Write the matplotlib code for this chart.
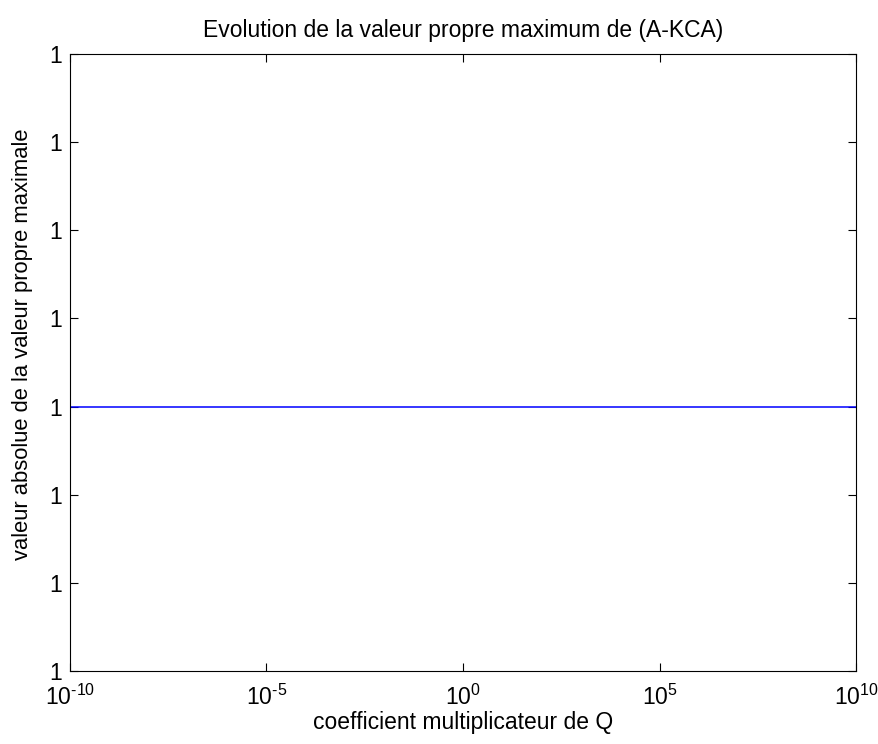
import numpy as np
import matplotlib
matplotlib.use("Agg")
import matplotlib.pyplot as plt
from matplotlib.ticker import FixedLocator, FuncFormatter

# Data
q = [1e-10, 1e-5, 1e0, 1e5, 1e10]
valeur = [1.0, 1.0, 1.0, 1.0, 1.0]
x_ticks = [1e-10, 1e-5, 1e0, 1e5, 1e10]
y_ticks = [1 - 3e-6, 1 - 2e-6, 1 - 1e-6, 1.0, 1 + 1e-6, 1 + 2e-6, 1 + 3e-6, 1 + 4e-6]

plt.rcParams['font.family'] = ['Liberation Sans', 'DejaVu Sans']
plt.rcParams['mathtext.fontset'] = 'custom'
plt.rcParams['mathtext.rm'] = 'Liberation Sans'
plt.rcParams['mathtext.it'] = 'Liberation Sans'
plt.rcParams['mathtext.bf'] = 'Liberation Sans'
plt.rcParams['mathtext.sf'] = 'Liberation Sans'

FS = 16.5


def xfmt(v, p):
    e = int(round(np.log10(v)))
    return r'$\mathregular{10^{\text{%d}}}$' % e


fig = plt.figure(figsize=(8.79, 7.44), dpi=100)
ax = fig.add_axes([70/879, 1 - 671/744, (856-70)/879, (671-54)/744])

ax.plot(q, valeur, color='#0000ff', linewidth=1.1)
ax.set_xscale('log')
ax.set_xlim(1e-10, 1e10)
ax.set_ylim(y_ticks[0], y_ticks[-1])
ax.xaxis.set_major_locator(FixedLocator(x_ticks))
ax.xaxis.set_minor_locator(FixedLocator([]))
ax.xaxis.set_major_formatter(FuncFormatter(xfmt))
ax.yaxis.set_major_locator(FixedLocator(y_ticks))
ax.yaxis.set_major_formatter(FuncFormatter(lambda v, p: '%.4g' % v))

ax.tick_params(direction='in', length=5.8, width=0.8, top=True, right=True, labelsize=FS)
ax.tick_params(axis='x', pad=10)
ax.tick_params(axis='y', pad=6)
for s in ax.spines.values():
    s.set_linewidth(0.8)

ax.set_title('Evolution de la valeur propre maximum de (A-KCA)', fontsize=FS, pad=12)
ax.set_xlabel('coefficient multiplicateur de Q', fontsize=FS, labelpad=1)
ax.set_ylabel('valeur absolue de la valeur propre maximale', fontsize=15.8)
ax.yaxis.set_label_coords(-0.047, 0.53)

fig.savefig('out.png', dpi=100, facecolor='white')
